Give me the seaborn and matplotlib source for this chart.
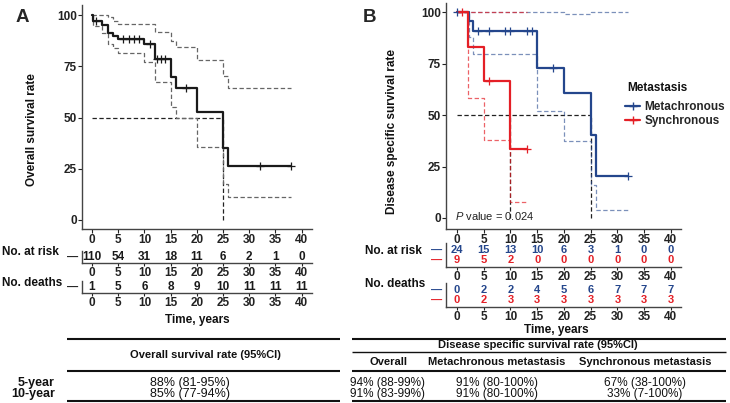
import numpy as np
import pandas as pd
import matplotlib.pyplot as plt
import seaborn as sns
from matplotlib.lines import Line2D

# ---- data ----
# panel A: overall survival (%)
os_time = [0, 0.1, 2, 3, 4, 5, 10, 12, 15, 16, 20, 25, 26, 38]
os_surv = [100, 97.3, 95.0, 91.0, 89.8, 88.1, 85.7, 78.4, 69.9, 64.6, 52.8, 35.3, 26.5, 26.5]
os_upper = [100, 100, 100, 99.2, 97.0, 95.4, 95.4, 91.5, 87.3, 84.6, 78.0, 70.2, 64.2, 64.2]
os_lower = [100, 94.6, 91.0, 85.7, 84.0, 81.3, 77.2, 67.5, 55.3, 49.6, 35.8, 17.5, 11.0, 11.0]
os_censor = [0.8, 6, 7, 8, 9, 11, 12.5, 13.2, 14, 18, 32, 38]
os_median = [25]

# panel B: disease specific survival by metastasis type (%)
met_time = [0, 2.2, 3, 15, 20, 25, 26, 32]
met_surv = [100, 95.8, 91.1, 72.8, 60.7, 40.5, 20.2, 20.2]
met_upper = [100, 100, 100, 100, 99.0, 100, 100, 100]
met_lower = [100, 87.9, 79.7, 52.1, 37.2, 16.2, 3.7, 3.7]
met_censor = [0, 3.9, 5.9, 9, 10, 13, 14, 18, 32]

syn_time = [0, 2, 5, 10, 13]
syn_surv = [100, 83.3, 66.7, 33.3, 33.3]
syn_upper = [100, 100, 100, 100, 100]
syn_lower = [100, 58.3, 38.0, 7.8, 7.8]
syn_censor = [0.9, 6, 13]
dss_median = [10, 25]

table_times = [0, 5, 10, 15, 20, 25, 30, 35, 40]
os_risk = [110, 54, 31, 18, 11, 6, 2, 1, 0]
os_deaths = [1, 5, 6, 8, 9, 10, 11, 11, 11]
met_risk = [24, 15, 13, 10, 6, 3, 1, 0, 0]
syn_risk = [9, 5, 2, 0, 0, 0, 0, 0, 0]
met_deaths = [0, 2, 2, 4, 5, 6, 7, 7, 7]
syn_deaths = [0, 2, 3, 3, 3, 3, 3, 3, 3]

rate_rows = ['5-year', '10-year']
os_rate = ['88% (81-95%)', '85% (77-94%)']
dss_cols = ['Overall', 'Metachronous metastasis', 'Synchronous metastasis']
dss_rate = [['94% (88-99%)', '91% (80-100%)', '67% (38-100%)'],
            ['91% (83-99%)', '91% (80-100%)', '33% (7-100%)']]

BLUE = '#24468c'
RED = '#e41f26'
FS = 8.5

sns.set_theme(style="ticks")
plt.rcParams['font.family'] = ['Liberation Sans', 'DejaVu Sans']
plt.rcParams['mathtext.fontset'] = 'custom'
plt.rcParams['mathtext.it'] = 'Liberation Sans:italic'
plt.rcParams['mathtext.rm'] = 'Liberation Sans'

W, H = 730, 403
fig = plt.figure(figsize=(W / 100, H / 100), dpi=100)


def px_axes(x0, y0, x1, y1):
    return fig.add_axes([x0 / W, 1 - y1 / H, (x1 - x0) / W, (y1 - y0) / H])


def surv_at(t, s, c):
    idx = np.searchsorted(t, c, side='right') - 1
    return np.asarray(s)[idx]


def style_axis(ax, pad=1.5):
    sns.despine(ax=ax)
    for sp in ['left', 'bottom']:
        ax.spines[sp].set_color('#444444')
        ax.spines[sp].set_linewidth(1.0)
    ax.tick_params(length=3, width=0.8, pad=pad, labelsize=FS, colors='#222222')
    for lab in ax.get_xticklabels() + ax.get_yticklabels():
        lab.set_fontweight('bold')
    ax.set_xlabel('')
    ax.set_ylabel('')


def draw_km(ax, t, s, lo, hi, cens, color, ci_color, ci_alpha=1.0):
    df = pd.DataFrame({'time': t, 'surv': s, 'lower': lo, 'upper': hi})
    for col in ['upper', 'lower']:
        sns.lineplot(data=df, x='time', y=col, ax=ax, color=ci_color, alpha=ci_alpha,
                     lw=0.9, linestyle=(0, (3.5, 2)), drawstyle='steps-post',
                     estimator=None, sort=False)
    sns.lineplot(data=df, x='time', y='surv', ax=ax, color=color, lw=1.6,
                 drawstyle='steps-post', estimator=None, sort=False, zorder=5)
    cdf = pd.DataFrame({'time': cens, 'surv': surv_at(t, s, cens)})
    sns.scatterplot(data=cdf, x='time', y='surv', ax=ax, marker='+', color=color,
                    s=30, linewidth=0.9, zorder=6)


def draw_median(ax, medians):
    ax.hlines(50, 0, max(medians), color='#222222', lw=0.9, linestyle=(0, (3.5, 2)))
    ax.vlines(medians, 0, 50, color='#222222', lw=0.9, linestyle=(0, (3.5, 2)))


def draw_table(ax, rows, colors, xlim, fs=FS):
    n = len(rows)
    ax.set_xlim(xlim)
    ax.set_ylim(-0.78, n - 1 + 0.78)
    for i, (vals, col) in enumerate(zip(rows, colors)):
        y = n - 1 - i
        for t, v in zip(table_times, vals):
            ax.text(t, y, str(v), ha='center', va='center', color=col,
                    fontsize=fs, fontweight='bold')
    ax.set_xticks(table_times)
    ax.set_yticks(range(n))
    ax.set_yticklabels(['—'] * n)
    style_axis(ax)
    ax.tick_params(axis='x', length=2, pad=1)
    ax.tick_params(axis='y', length=0, pad=3)
    for lab, col in zip(ax.get_yticklabels(), colors[::-1]):
        lab.set_color(col)
        lab.set_fontsize(8)


# ---- panel A ----
xlimA = (-1.91, 42.0)
axA = px_axes(82, 5, 312, 229)
draw_median(axA, os_median)
draw_km(axA, os_time, os_surv, os_lower, os_upper, os_censor, '#1a1a1a', '#666666')
axA.set_xlim(xlimA)
axA.set_ylim(-4.4, 104.9)
axA.set_xticks(table_times)
axA.set_yticks([0, 25, 50, 75, 100])
style_axis(axA, pad=0.8)

axA_r = px_axes(82, 251, 312, 263)
draw_table(axA_r, [os_risk], ['#1a1a1a'], xlimA)
axA_d = px_axes(82, 281, 312, 293)
draw_table(axA_d, [os_deaths], ['#1a1a1a'], xlimA)

# ---- panel B ----
xlimB = (-2.06, 41.9)
axB = px_axes(446, 3, 681, 229)
draw_median(axB, dss_median)
draw_km(axB, met_time, met_surv, met_lower, met_upper, met_censor, BLUE, BLUE, 0.6)
draw_km(axB, syn_time, syn_surv, syn_lower, syn_upper, syn_censor, RED, RED, 0.7)
axB.set_xlim(xlimB)
axB.set_ylim(-5.35, 104.5)
axB.set_xticks(table_times)
axB.set_yticks([0, 25, 50, 75, 100])
style_axis(axB, pad=0.8)
axB.text(-0.4, 1, r'$\it{P}$ value = 0.024', fontsize=8, ha='left', va='center', color='#222222')
handles = [Line2D([], [], color=BLUE, lw=1.6, marker='+', markersize=6),
           Line2D([], [], color=RED, lw=1.6, marker='+', markersize=6)]
axB.legend(handles, ['Metachronous', 'Synchronous'],
           loc='upper left', bbox_to_anchor=(625 / W, 1 - 101 / H),
           bbox_transform=fig.transFigure, frameon=False,
           prop={'weight': 'bold', 'size': FS},
           handlelength=1.3, handletextpad=0.35, labelspacing=0.15,
           borderaxespad=0, borderpad=0)

axB_r = px_axes(446, 243, 681, 267)
draw_table(axB_r, [met_risk, syn_risk], [BLUE, RED], xlimB, fs=8)
axB_d = px_axes(446, 283, 681, 307)
draw_table(axB_d, [met_deaths, syn_deaths], [BLUE, RED], xlimB, fs=8)

# ---- overlay for labels and the summary tables (pixel coordinates) ----
ov = fig.add_axes([0, 0, 1, 1])
ov.set_xlim(0, W)
ov.set_ylim(H, 0)
ov.axis('off')
ov.patch.set_visible(False)

bold = dict(fontweight='bold', fontsize=FS, color='#111111')
ov.text(22, 18, 'A', fontsize=13.5, fontweight='bold', ha='center', va='center')
ov.text(370, 18, 'B', fontsize=13.5, fontweight='bold', ha='center', va='center')
ov.text(627, 88, 'Metastasis', ha='left', va='center', **bold)
ov.text(32, 130, 'Overall survival rate', rotation=90, ha='center', va='center', **bold)
ov.text(392, 132, 'Disease specific survival rate', rotation=90, ha='center', va='center', **bold)
ov.text(2, 252, 'No. at risk', ha='left', va='center', **bold)
ov.text(2, 283, 'No. deaths', ha='left', va='center', **bold)
ov.text(365, 251, 'No. at risk', ha='left', va='center', **bold)
ov.text(365, 284, 'No. deaths', ha='left', va='center', **bold)
ov.text(197, 320, 'Time, years', ha='center', va='center', **bold)
ov.text(556, 330, 'Time, years', ha='center', va='center', **bold)

# table A
for y in [339, 371, 401]:
    ov.plot([67, 340], [y, y], color='#111111', lw=1.5, solid_capstyle='butt')
ov.text(205, 355, 'Overall survival rate (95%CI)', ha='center', va='center',
        fontsize=8, fontweight='bold', color='#111111')
for i, (r, v) in enumerate(zip(rate_rows, os_rate)):
    y = 383 + 11 * i
    ov.text(55, y, r, ha='right', va='center', fontweight='bold', fontsize=9, color='#111111')
    ov.text(190, y, v, ha='center', va='center', fontsize=9, color='#111111')

# table B
for y, lw in [(339, 1.5), (352, 1.0), (371, 1.5), (401, 1.5)]:
    ov.plot([352, 726], [y, y], color='#111111', lw=lw, solid_capstyle='butt')
ov.text(538, 345, 'Disease specific survival rate (95%CI)', ha='center', va='center',
        fontsize=8, fontweight='bold', color='#111111')
col_x = [388, 497, 645]
for cx, c in zip(col_x, dss_cols):
    ov.text(cx, 362, c, ha='center', va='center', fontsize=8, fontweight='bold', color='#111111')
for i, row in enumerate(dss_rate):
    y = 383 + 11 * i
    for cx, v in zip(col_x, row):
        ov.text(cx, y, v, ha='center', va='center', fontsize=8.5, color='#111111')

fig.savefig('out.png', dpi=100)
